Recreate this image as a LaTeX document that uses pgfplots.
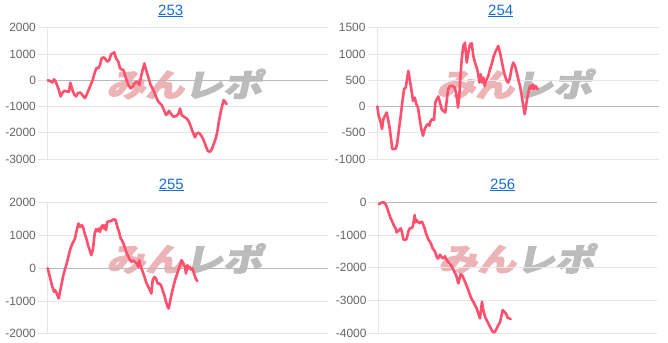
\documentclass[border=0pt]{standalone}
\usepackage{pgfplots}
\pgfplotsset{compat=1.18}
\usepackage{fontspec}
\setmainfont{Liberation Sans}
\newfontfamily\jpfont{Noto Sans CJK JP}[FakeBold=3]
\definecolor{gridgray}{RGB}{230,230,230}
\definecolor{zerogray}{RGB}{185,185,185}
\definecolor{tickgray}{RGB}{102,102,102}
\definecolor{linecol}{RGB}{255,80,110}
\definecolor{titleblue}{RGB}{22,110,210}
\definecolor{wmpink}{RGB}{236,180,183}
\definecolor{wmgray}{RGB}{188,188,188}
\pgfplotsset{
  panel/.style={
    scale only axis,
    axis lines=left,
    axis line style={-, draw=gridgray, line width=0.8bp},
    xtick=\empty,
    ymajorgrids,
    grid style={draw=gridgray, line width=0.8bp},
    tick align=outside,
    major tick length=9.4bp,
    ytick style={draw=gridgray, line width=0.8bp},
    yticklabel style={font=\fontsize{12}{14}\selectfont, text=tickgray, inner sep=0pt, xshift=-2.2bp},
    extra y ticks={0},
    extra y tick labels={},
    extra y tick style={grid style={draw=zerogray, line width=0.8bp}, tick style={draw=zerogray}},
    clip=false,
  },
  dline/.style={draw=linecol, line width=2.6bp, line join=round, line cap=round, mark=none},
}
\newcommand{\wm}[2]{%
  \begin{scope}[shift={(#1,#2)}, xslant=0.22, xscale=1.22]
    \node[transform shape, inner sep=0pt] {\fontsize{32}{32}\jpfont\bfseries{\color{wmpink}みん}{\color{wmgray}レポ}};
  \end{scope}}
\newcommand{\ttl}[3]{%
  \node[anchor=base, inner sep=0pt, text=titleblue, font=\fontsize{15}{18}\selectfont] (t#3) at (#1,#2) {#3};
  \draw[titleblue, line width=0.9bp] ([yshift=-1.6bp]t#3.base west) -- ([yshift=-1.6bp]t#3.base east);}
\begin{document}
\begin{tikzpicture}[x=1bp, y=1bp]
\useasboundingbox (0,0) rectangle (668,342);
% watermarks
\wm{187}{258}
\wm{517}{258}
\wm{187}{83.5}
\wm{519}{83.5}
% titles
\ttl{170.7}{327}{253}
\ttl{500.7}{327}{254}
\ttl{171.3}{152.7}{255}
\ttl{502.7}{152.7}{256}
% 253
\begin{axis}[panel, at={(47.7bp,183bp)}, anchor=south west, width=280.6bp, height=131.3bp,
  xmin=143, xmax=985, ymin=-3000, ymax=2000,
  ytick={-3000,-2000,-1000,0,1000,2000}, yticklabels={-3000,-2000,-1000,0,1000,2000}]
\addplot[dline] coordinates {(143,0)(150,-30)(157,-81)(162,33)(167,-56)(175,-310)(182,-617)(188,-465)(193,-401)(200,-427)(207,-439)(211,-94)(217,-363)(222,-528)(228,-617)(233,-503)(240,-465)(245,-528)(250,-617)(255,-681)(262,-490)(270,-237)(278,8)(285,325)(290,477)(295,452)(300,579)(305,833)(312,871)(318,769)(323,706)(328,769)(333,985)(338,1023)(343,1061)(348,833)(355,706)(360,452)(365,414)(370,389)(378,71)(385,-183)(392,-310)(398,-246)(405,-94)(412,-56)(418,-183)(422,71)(428,400)(433,640)(438,400)(445,110)(452,-183)(460,-373)(468,-630)(475,-820)(485,-947)(492,-1138)(498,-1328)(503,-1265)(507,-1163)(512,-1265)(520,-1392)(528,-1366)(535,-1290)(540,-1074)(545,-1328)(552,-1392)(560,-1455)(567,-1582)(572,-1747)(578,-1963)(585,-2178)(590,-2026)(597,-2001)(603,-2090)(610,-2255)(617,-2496)(623,-2686)(630,-2725)(635,-2636)(642,-2407)(648,-2178)(652,-1963)(657,-1544)(662,-1227)(667,-947)(671,-757)(675,-820)(680,-909)};
\end{axis}
% 254
\begin{axis}[panel, at={(377.3bp,183bp)}, anchor=south west, width=281.7bp, height=131.3bp,
  xmin=377.3, xmax=659, ymin=-1000, ymax=1500,
  ytick={-1000,-500,0,500,1000,1500}, yticklabels={-1000,-500,0,500,1000,1500}]
\addplot[dline] coordinates {(377.3,0)(378.7,-177)(380.7,-304)(382,-430)(383.3,-241)(385,-177)(386.7,-114)(388,-241)(389.3,-367)(390.7,-557)(392.3,-810)(394,-810)(396,-798)(397.3,-684)(399,-430)(400.7,-177)(402.3,76)(404,329)(405.7,361)(407.3,551)(408.3,677)(409.7,519)(411.3,329)(413,108)(414.7,171)(416.3,44)(418,-19)(419.7,-241)(421.3,-430)(423,-557)(424.7,-430)(426.3,-367)(428,-335)(429.3,-367)(430.7,-272)(432.3,-241)(434,-253)(435.3,76)(436.7,139)(438.3,190)(440,76)(441.7,-51)(443.3,-82)(445.3,-114)(446.7,108)(448,329)(450,392)(452.3,392)(454.7,361)(456.7,203)(458,-19)(459.3,203)(460,456)(461.7,899)(463.3,1152)(465,1215)(466.7,836)(468.3,1025)(470,1184)(471.7,1203)(473.3,962)(475,836)(476.7,741)(478.3,614)(479.3,456)(480.7,614)(482,456)(483.3,551)(484.7,392)(486,487)(488.3,582)(490,709)(491.7,804)(493.3,931)(495,1025)(496.7,1089)(498.3,1152)(500,1025)(501.7,867)(503.3,709)(505,582)(506.7,487)(508.3,456)(510,551)(511.7,741)(513.3,836)(515,772)(516.7,646)(518.3,519)(520,392)(521.7,203)(523.3,13)(524.7,-146)(526,13)(527.3,171)(528.7,298)(530,392)(531.3,329)(532.7,424)(534,329)(535.3,392)(536.7,361)(537.7,329)};
\end{axis}
% 255
\begin{axis}[panel, at={(47.7bp,8.3bp)}, anchor=south west, width=280.6bp, height=131bp,
  xmin=143, xmax=985, ymin=-2000, ymax=2000,
  ytick={-2000,-1000,0,1000,2000}, yticklabels={-2000,-1000,0,1000,2000}]
\addplot[dline] coordinates {(143,0)(147,-163)(152,-366)(157,-570)(162,-723)(165,-672)(169,-743)(172,-825)(176,-926)(180,-723)(185,-468)(190,-214)(195,-31)(200,143)(205,346)(210,550)(215,702)(220,804)(225,906)(230,1161)(235,1364)(240,1262)(245,1313)(249,1262)(254,1059)(259,906)(264,702)(269,550)(274,397)(279,600)(284,1059)(288,1191)(292,1130)(296,1211)(300,1110)(304,1262)(308,1313)(312,1211)(315,1313)(318,1161)(322,1415)(327,1435)(332,1435)(337,1466)(342,1496)(347,1466)(352,1262)(357,1110)(362,906)(365,865)(370,763)(375,610)(380,458)(385,356)(390,254)(395,193)(400,244)(405,193)(410,143)(415,41)(418,244)(422,41)(426,-51)(430,-163)(435,-316)(440,-468)(445,-570)(450,-672)(454,-774)(458,-366)(463,-265)(468,-316)(473,-468)(478,-468)(483,-519)(488,-672)(493,-825)(498,-1028)(503,-1181)(506,-1232)(510,-1028)(515,-774)(520,-570)(525,-366)(530,-214)(535,-61)(540,92)(545,244)(550,143)(555,41)(558,-163)(562,92)(566,-10)(570,41)(574,-51)(578,-10)(582,-163)(587,-316)(592,-397)};
\end{axis}
% 256
\begin{axis}[panel, at={(378.3bp,8.3bp)}, anchor=south west, width=279bp, height=131.7bp,
  xmin=133, xmax=970, ymin=-4000, ymax=0,
  ytick={-4000,-3000,-2000,-1000,0}, yticklabels={-4000,-3000,-2000,-1000,0}]
\addplot[dline] coordinates {(135,-71)(140,-30)(145,-10)(150,-10)(155,-71)(160,-192)(165,-344)(170,-496)(175,-598)(180,-719)(185,-800)(188,-922)(192,-881)(196,-851)(200,-800)(204,-902)(208,-1135)(213,-1155)(218,-1124)(223,-902)(227,-800)(232,-800)(236,-750)(239,-598)(242,-395)(245,-618)(248,-547)(252,-598)(256,-648)(260,-618)(264,-598)(268,-699)(272,-800)(276,-952)(280,-1053)(284,-1155)(288,-1205)(292,-1287)(296,-1408)(300,-1459)(304,-1530)(308,-1661)(312,-1720)(318,-1600)(323,-1680)(328,-1712)(333,-1650)(338,-1763)(343,-1820)(348,-1880)(353,-1950)(358,-2050)(363,-2150)(368,-2270)(373,-2472)(380,-2198)(384,-2218)(388,-2300)(393,-2421)(398,-2543)(403,-2674)(408,-2826)(413,-2948)(418,-3029)(423,-3130)(428,-3232)(433,-3384)(438,-3536)(441,-3282)(444,-3029)(448,-3282)(453,-3484)(458,-3586)(463,-3687)(468,-3788)(473,-3890)(478,-3961)(483,-3941)(488,-3839)(493,-3738)(498,-3657)(503,-3434)(506,-3282)(511,-3333)(516,-3384)(521,-3515)(526,-3536)(530,-3556)};
\end{axis}
\end{tikzpicture}
\end{document}
